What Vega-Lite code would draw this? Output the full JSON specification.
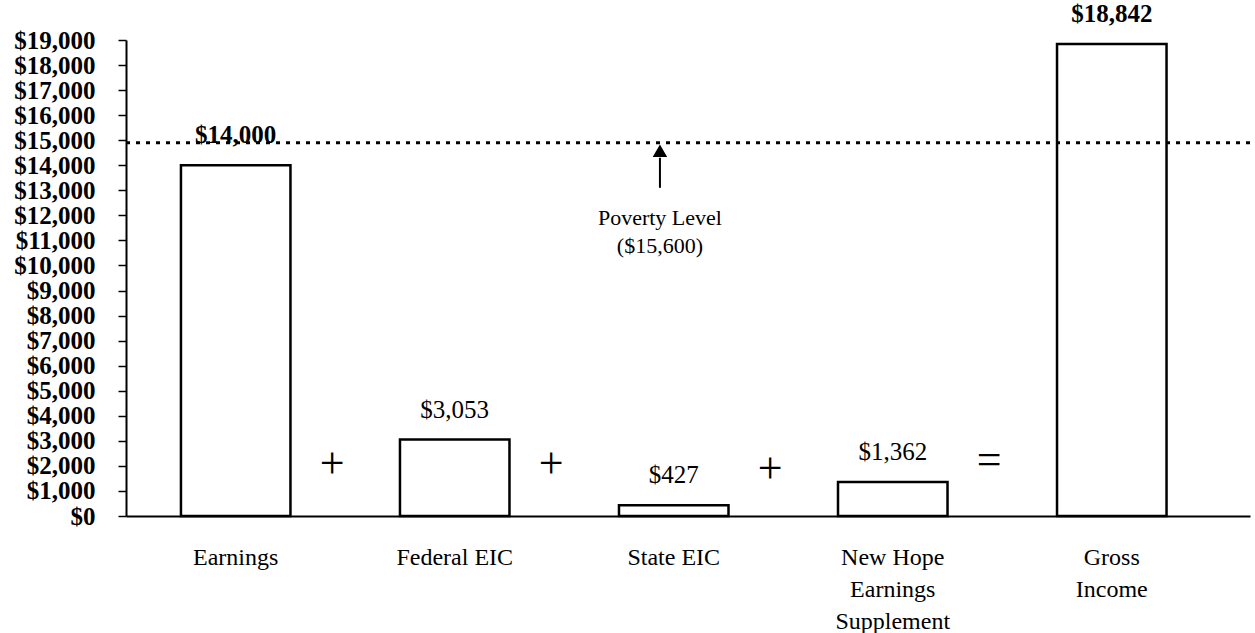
{
  "$schema": "https://vega.github.io/schema/vega-lite/v6.json",
  "width": 1124,
  "height": 476,
  "autosize": "none",
  "padding": {"left": 126, "top": 40, "right": 5, "bottom": 117},
  "background": "white",
  "config": {"view": {"stroke": null}, "font": "Liberation Serif"},
  "resolve": {"axis": {"y": "independent"}},
  "datasets": {
    "bars": [
      {"category": "Earnings", "amount": 14000},
      {"category": "Federal EIC", "amount": 3053},
      {"category": "State EIC", "amount": 427},
      {"category": "New Hope Earnings Supplement", "amount": 1362},
      {"category": "Gross Income", "amount": 18842}
    ],
    "poverty": [{"level": 14900}],
    "arrow": [{"category": "State EIC", "from": 13100, "to": 14300, "head": 14580}],
    "note": [
      {"category": "State EIC", "line": "Poverty Level", "at": 11900},
      {"category": "State EIC", "line": "($15,600)", "at": 10780}
    ],
    "ops": [
      {"category": "Earnings", "op": "+", "at": 2030},
      {"category": "Federal EIC", "op": "+", "at": 2030},
      {"category": "State EIC", "op": "+", "at": 1830},
      {"category": "New Hope Earnings Supplement", "op": "=", "at": 2200}
    ]
  },
  "encoding": {
    "x": {
      "field": "category",
      "type": "nominal",
      "sort": null,
      "scale": {
        "domain": ["Earnings", "Federal EIC", "State EIC", "New Hope Earnings Supplement", "Gross Income"],
        "paddingInner": 0.5,
        "paddingOuter": 0.316,
        "align": 0.397
      },
      "axis": {
        "title": null,
        "labelAngle": 0,
        "ticks": false,
        "tickSize": 0,
        "domainColor": "black",
        "domainWidth": 2,
        "labelColor": "black",
        "labelFont": "Liberation Serif",
        "labelFontSize": 24,
        "labelPadding": 29,
        "labelBaseline": "top",
        "labelLineHeight": 32,
        "labelLimit": 0,
        "labelOverlap": false,
        "labelExpr": "datum.value == 'New Hope Earnings Supplement' ? ['New Hope', 'Earnings', 'Supplement'] : datum.value == 'Gross Income' ? ['Gross', 'Income'] : datum.label"
      }
    }
  },
  "layer": [
    {
      "data": {"name": "bars"},
      "mark": {"type": "bar", "fill": "white", "stroke": "black", "strokeWidth": 2.5},
      "encoding": {
        "y": {
          "field": "amount",
          "type": "quantitative",
          "scale": {"domain": [0, 19000], "nice": false},
          "axis": {
            "title": null,
            "grid": false,
            "values": [0, 1000, 2000, 3000, 4000, 5000, 6000, 7000, 8000, 9000, 10000, 11000, 12000, 13000, 14000, 15000, 16000, 17000, 18000, 19000],
            "format": "$,d",
            "labelOverlap": false,
            "labelBound": false,
            "labelFlush": false,
            "domainColor": "black",
            "domainWidth": 2,
            "tickColor": "black",
            "tickWidth": 1.5,
            "tickSize": 8,
            "labelColor": "black",
            "labelFont": "Liberation Serif",
            "labelFontWeight": "bold",
            "labelFontSize": 25,
            "labelPadding": 23
          }
        }
      }
    },
    {
      "data": {"name": "bars"},
      "transform": [{"filter": "datum.category != 'Earnings' && datum.category != 'Gross Income'"}],
      "mark": {"type": "text", "baseline": "bottom", "dy": -17, "fontSize": 25, "font": "Liberation Serif", "color": "black"},
      "encoding": {
        "y": {"field": "amount", "type": "quantitative", "axis": null},
        "text": {"field": "amount", "type": "quantitative", "format": "$,d"}
      }
    },
    {
      "data": {"name": "bars"},
      "transform": [{"filter": "datum.category == 'Earnings' || datum.category == 'Gross Income'"}],
      "mark": {"type": "text", "baseline": "bottom", "dy": -17, "fontSize": 25, "fontWeight": "bold", "font": "Liberation Serif", "color": "black"},
      "encoding": {
        "y": {"field": "amount", "type": "quantitative", "axis": null},
        "text": {"field": "amount", "type": "quantitative", "format": "$,d"}
      }
    },
    {
      "data": {"name": "poverty"},
      "mark": {"type": "rule", "color": "black", "strokeWidth": 3, "strokeDash": [4, 6]},
      "encoding": {
        "x": null,
        "y": {"field": "level", "type": "quantitative", "axis": null}
      }
    },
    {
      "data": {"name": "arrow"},
      "mark": {"type": "rule", "color": "black", "strokeWidth": 2},
      "encoding": {
        "x": {"field": "category", "type": "nominal", "bandPosition": 0.374},
        "y": {"field": "from", "type": "quantitative", "axis": null},
        "y2": {"field": "to"}
      }
    },
    {
      "data": {"name": "arrow"},
      "mark": {"type": "point", "shape": "triangle-up", "filled": true, "color": "black", "size": 210, "opacity": 1},
      "encoding": {
        "x": {"field": "category", "type": "nominal", "bandPosition": 0.374},
        "y": {"field": "head", "type": "quantitative", "axis": null}
      }
    },
    {
      "data": {"name": "note"},
      "mark": {"type": "text", "fontSize": 22, "font": "Liberation Serif", "color": "black", "baseline": "middle"},
      "encoding": {
        "x": {"field": "category", "type": "nominal", "bandPosition": 0.374},
        "y": {"field": "at", "type": "quantitative", "axis": null},
        "text": {"field": "line"}
      }
    },
    {
      "data": {"name": "ops"},
      "mark": {"type": "text", "fontSize": 44, "font": "Liberation Serif", "color": "black", "baseline": "middle"},
      "encoding": {
        "x": {"field": "category", "type": "nominal", "bandPosition": 1.38},
        "y": {"field": "at", "type": "quantitative", "axis": null},
        "text": {"field": "op"}
      }
    }
  ]
}
